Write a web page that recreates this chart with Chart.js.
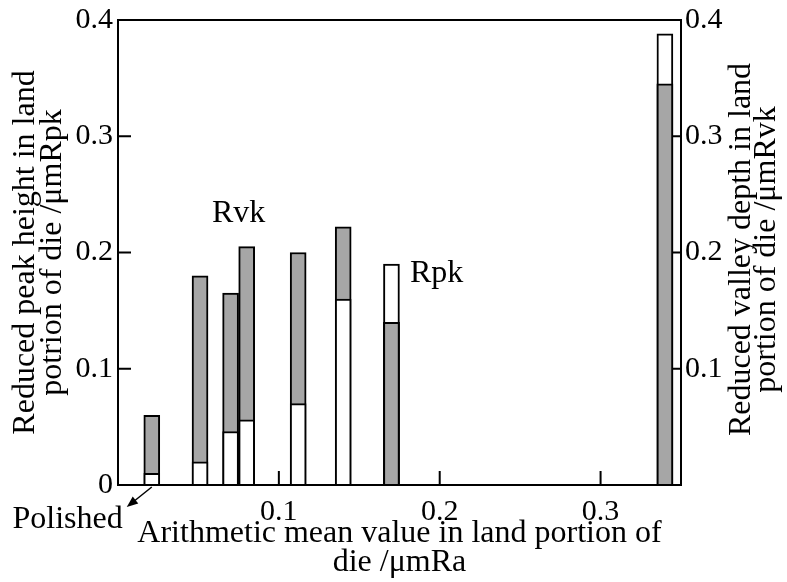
<!DOCTYPE html>
<html lang="en">
<head>
    <meta charset="utf-8">
    <title>Rpk / Rvk against Ra</title>
    <script src="https://cdn.jsdelivr.net/npm/chart.js@4.4.1/dist/chart.umd.min.js"></script>
    <style>
        body { margin: 0; background: #fff; }
        #wrap { width: 787px; height: 582px; }
    </style>
</head>
<body>
    <div id="wrap"><canvas id="myChart"></canvas></div>

    <script>
        // Ra of the land portion for each die (um), the first one is the polished die
        var raValues = [0.021, 0.051, 0.070, 0.080, 0.112, 0.140, 0.170, 0.340];
        // reduced peak height Rpk (um) - left axis
        var rpkValues = [0.010, 0.020, 0.046, 0.056, 0.070, 0.160, 0.190, 0.388];
        // reduced valley depth Rvk (um) - right axis
        var rvkValues = [0.060, 0.180, 0.165, 0.205, 0.200, 0.222, 0.140, 0.345];

        // tick labels
        var xTicks = [0.1, 0.2, 0.3];
        var rpkTicks = [0, 0.1, 0.2, 0.3, 0.4];
        var rvkTicks = [0.1, 0.2, 0.3, 0.4];

        var serif = "'Liberation Serif', 'Times New Roman', serif";
        var grey = '#a6a6a6';

        function points(vals) {
            return raValues.map(function (x, i) {
                return { x: x, y: vals[i] };
            });
        }

        // grey bar again on top wherever Rvk is the shorter one, so it isn't hidden by the white bar
        var rvkFront = rvkValues.map(function (v, i) {
            return v < rpkValues[i] ? v : null;
        });

        // frame, inward ticks and the text notes
        var framePlugin = {
            id: 'frame',
            afterDatasetsDraw: function (chart) {
                var ctx = chart.ctx, a = chart.chartArea;
                var sx = chart.scales.x, sy = chart.scales.y, sy1 = chart.scales.y1;
                ctx.save();
                ctx.strokeStyle = '#000';
                ctx.fillStyle = '#000';
                ctx.lineWidth = 2;
                ctx.strokeRect(a.left, a.top, a.right - a.left, a.bottom - a.top);

                ctx.beginPath();
                xTicks.forEach(function (v) {
                    var px = sx.getPixelForValue(v);
                    ctx.moveTo(px, a.bottom);
                    ctx.lineTo(px, a.bottom - 14);
                });
                rpkTicks.forEach(function (v) {
                    var py = sy.getPixelForValue(v);
                    ctx.moveTo(a.left, py);
                    ctx.lineTo(a.left + 13, py);
                });
                rvkTicks.forEach(function (v) {
                    var py = sy1.getPixelForValue(v);
                    ctx.moveTo(a.right, py);
                    ctx.lineTo(a.right - 8, py);
                });
                ctx.stroke();

                // arrow pointing at the polished die
                var bx = sx.getPixelForValue(raValues[0]);
                var x0 = bx, y0 = a.bottom + 2, x1 = bx - 25, y1 = a.bottom + 22;
                ctx.lineWidth = 1.5;
                ctx.beginPath();
                ctx.moveTo(x0, y0);
                ctx.lineTo(x1 + 5, y1 - 4);
                ctx.stroke();
                var ang = Math.atan2(y1 - y0, x1 - x0);
                ctx.beginPath();
                ctx.moveTo(x1, y1);
                ctx.lineTo(x1 - 12 * Math.cos(ang - 0.38), y1 - 12 * Math.sin(ang - 0.38));
                ctx.lineTo(x1 - 12 * Math.cos(ang + 0.38), y1 - 12 * Math.sin(ang + 0.38));
                ctx.closePath();
                ctx.fill();

                ctx.font = '32px ' + serif;
                ctx.textBaseline = 'alphabetic';
                ctx.textAlign = 'right';
                ctx.fillText('Polished', bx - 29, a.bottom + 43);

                ctx.textAlign = 'left';
                ctx.fillText('Rvk', sx.getPixelForValue(0.0584), sy.getPixelForValue(0.2264));
                ctx.fillText('Rpk', sx.getPixelForValue(0.1815), sy.getPixelForValue(0.1745));

                // right axis title, read bottom to top like the left one
                var cy = (a.top + a.bottom) / 2 - 3;
                ctx.textAlign = 'center';
                ctx.translate(750, cy);
                ctx.rotate(-Math.PI / 2);
                ctx.fillText('Reduced valley depth in land', 0, 0);
                ctx.fillText('portion of die /\u03bcmRvk', 0, 25);
                ctx.restore();
            }
        };

        var ctx = document.getElementById('myChart').getContext('2d');
        var myChart = new Chart(ctx, {
            type: 'bar',
            data: {
                datasets: [{
                    label: 'Rvk',
                    data: points(rvkValues),
                    yAxisID: 'y1',
                    backgroundColor: grey,
                    borderColor: '#000',
                    borderWidth: 2,
                    order: 3
                }, {
                    label: 'Rpk',
                    data: points(rpkValues),
                    yAxisID: 'y',
                    backgroundColor: '#fff',
                    borderColor: '#000',
                    borderWidth: 2,
                    order: 2
                }, {
                    label: 'Rvk',
                    data: points(rvkFront),
                    yAxisID: 'y1',
                    backgroundColor: grey,
                    borderColor: '#000',
                    borderWidth: 2,
                    order: 1
                }]
            },
            options: {
                responsive: true,
                maintainAspectRatio: false,
                devicePixelRatio: 1,
                animation: false,
                layout: { padding: { top: 15, left: 0, right: 0, bottom: 0 } },
                datasets: {
                    bar: { grouped: false, barThickness: 16 }
                },
                plugins: {
                    legend: { display: false },
                    tooltip: { enabled: false }
                },
                scales: {
                    x: {
                        type: 'linear',
                        offset: false,
                        min: 0,
                        max: 0.35,
                        grid: { display: false, drawTicks: false },
                        border: { display: false },
                        afterBuildTicks: function (s) {
                            s.ticks = xTicks.map(function (v) { return { value: v }; });
                        },
                        afterFit: function (s) { s.height = 97; },
                        ticks: {
                            color: '#000',
                            padding: 12,
                            maxRotation: 0,
                            font: { family: serif, size: 30, lineHeight: 1 },
                            callback: function (v) { return String(v); }
                        },
                        title: {
                            display: true,
                            text: ['Arithmetic mean value in land portion of', 'die /\u03bcmRa'],
                            color: '#000',
                            font: { family: serif, size: 32, lineHeight: 0.9 },
                            padding: { top: 0, bottom: 5 }
                        }
                    },
                    y: {
                        position: 'left',
                        min: 0,
                        max: 0.4,
                        grid: { display: false, drawTicks: false },
                        border: { display: false },
                        afterBuildTicks: function (s) {
                            s.ticks = rpkTicks.map(function (v) { return { value: v }; });
                        },
                        afterFit: function (s) { s.width = 118; },
                        ticks: {
                            color: '#000',
                            padding: 5,
                            font: { family: serif, size: 30, lineHeight: 1 },
                            callback: function (v) { return String(v); }
                        },
                        title: {
                            display: true,
                            text: ['Reduced peak height in land', 'potrion of die /\u03bcmRpk'],
                            color: '#000',
                            font: { family: serif, size: 32, lineHeight: 0.84 },
                            padding: { top: 12, bottom: 0 }
                        }
                    },
                    y1: {
                        position: 'right',
                        min: 0,
                        max: 0.4,
                        grid: { display: false, drawTicks: false },
                        border: { display: false },
                        afterBuildTicks: function (s) {
                            s.ticks = rvkTicks.map(function (v) { return { value: v }; });
                        },
                        afterFit: function (s) { s.width = 106; },
                        ticks: {
                            color: '#000',
                            padding: 4,
                            font: { family: serif, size: 30, lineHeight: 1 },
                            callback: function (v) { return String(v); }
                        }
                    }
                }
            },
            plugins: [framePlugin]
        });
    </script>
</body>
</html>
